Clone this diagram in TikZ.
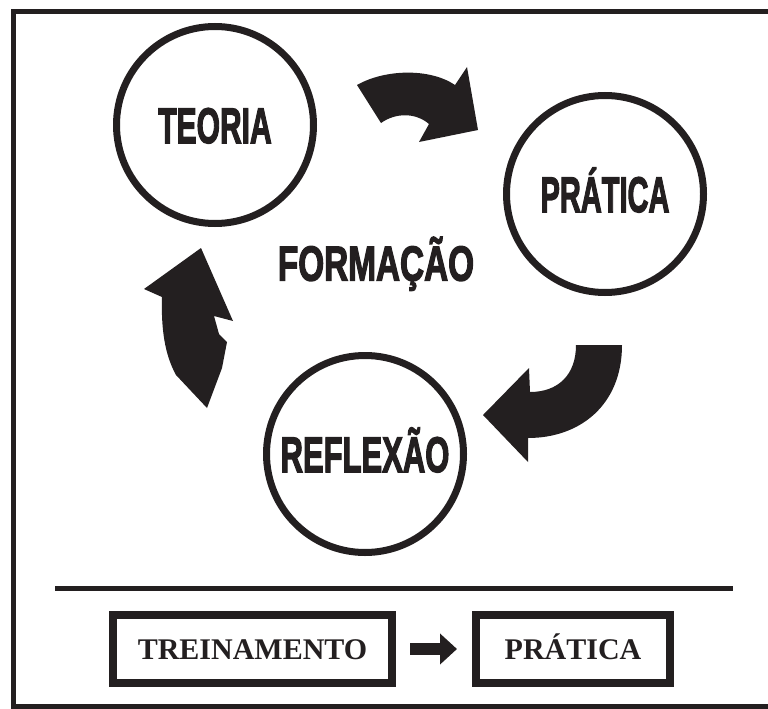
\documentclass[tikz,border=0pt]{standalone}
\usepackage{fontspec}
\setmainfont{Liberation Serif}
\setsansfont{Liberation Sans}
\newfontfamily\blackfont[FakeBold=3]{Liberation Sans}
\usetikzlibrary{arrows.meta}
\definecolor{ink}{RGB}{35,31,32}
\newcommand{\heavy}[2][0.6]{\scalebox{#1}[1]{#2}}

\begin{document}
\begin{tikzpicture}[x=1pt,y=-1pt,
    ring/.style={circle,draw=ink,text=ink,line width=7pt,minimum size=197pt,inner sep=0pt,
      text height=36pt,text depth=0pt,font=\blackfont\bfseries\fontsize{50}{50}\selectfont},
    word/.style={text=ink,inner sep=0pt,text height=35pt,text depth=0pt,
      font=\blackfont\bfseries\fontsize{49}{49}\selectfont},
    box/.style={draw=ink,text=ink,line width=8pt,minimum height=68pt,
      text height=20pt,text depth=0pt,font=\rmfamily\bfseries\fontsize{30}{30}\selectfont},
    fatarrow/.style={fill=ink}]

    \useasboundingbox (0,0) rectangle (768,709);
    \clip (0,0) rectangle (768,709);
    \draw[ink,line width=5.5pt] (13.5,11.5) rectangle (790,706.5);

    \node[ring] (teoria) at (215,125) {\heavy{TEORIA}};
    \node[ring] (pratica) at (605,194) {\heavy[0.58]{PRÁTICA}};
    \node[ring] (reflexao) at (365,454) {\heavy[0.62]{REFLEXÃO}};
    \node[word] (formacao) at (376,263) {\heavy[0.68]{FORMAÇÃO}};

    \fill[fatarrow] (357,85) .. controls (385,69) and (430,68) .. (455,85) -- (467,67)
      -- (478,130) -- (419,142) -- (429,124) .. controls (415,112) and (395,113) .. (381,123) -- cycle;
    \fill[fatarrow] (576,345) -- (622,345) .. controls (622,405) and (580,438) .. (528,438)
      -- (528,462) -- (483,415) -- (529,368) -- (530,392) .. controls (558,392) and (576,375) .. (576,345) -- cycle;
    \fill[fatarrow] (201,248) -- (233,321) -- (214,316) -- (219,334) -- (227,342) -- (222,368)
      -- (207,408) -- (176,375) .. controls (165,355) and (161,330) .. (162,297) -- (144,289) -- cycle;

    \draw[ink,line width=5pt] (55,588.5) -- (733,588.5);

    \node[box,minimum width=279pt] (treino) at (252.5,649) {TREINAMENTO};
    \node[box,minimum width=194pt] (pratica2) at (573,649) {PRÁTICA};
    \draw[ink,line width=12pt,-{Triangle[length=17pt,width=30pt]},
      shorten <=14pt,shorten >=15pt] (treino) -- (pratica2);

\end{tikzpicture}
\end{document}
